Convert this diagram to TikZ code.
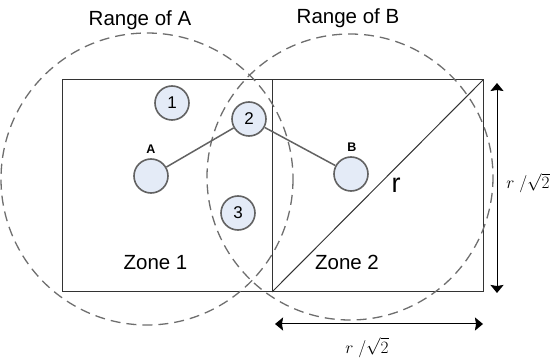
\documentclass[tikz,border=0pt]{standalone}
\usepackage{fontspec}
\setmainfont{Liberation Sans}
\newfontfamily\timesf{Liberation Serif}
\usetikzlibrary{arrows.meta}
\definecolor{nodefill}{HTML}{E4EBF7}
\definecolor{nodeline}{HTML}{626262}
\definecolor{rangeline}{HTML}{6E6E6E}
\begin{document}
\begin{tikzpicture}[x=1pt,y=-1pt,
  sensornode/.style={circle,draw=nodeline,line width=1.6pt,fill=nodefill,minimum size=34pt,inner sep=0pt},
  numnode/.style={circle,draw=nodeline,line width=1.6pt,fill=nodefill,minimum size=34pt,inner sep=0pt,font=\fontsize{17}{18}\selectfont},
  rangecirc/.style={draw=rangeline,line width=1.3pt,dash pattern=on 10pt off 6pt},
  sensorlink/.style={draw=nodeline,line width=1.5pt},
  zoneline/.style={draw=black!80,line width=1pt},
  lbltext/.style={font=\fontsize{20.5}{22}\selectfont,anchor=base,inner sep=0pt},
  sensorlbl/.style={font=\bfseries\fontsize{12.5}{14}\selectfont},
  dimarrow/.style={draw=black,line width=1pt,{Stealth[length=8pt,width=13pt,inset=1pt]}-{Stealth[length=8pt,width=13pt,inset=1pt]}},
  dimlbl/.style={font=\timesf\fontsize{19}{20}\selectfont,anchor=base,inner sep=0pt}]
\useasboundingbox (0,0) rectangle (552,358);
% zones
\draw[zoneline] (62,80) rectangle (272,292);
\draw[zoneline] (272,80) rectangle (483,292);
\draw[zoneline] (272,292) -- (483,80);
% ranges
\draw[rangecirc] (147,179) circle (146);
\draw[rangecirc] (350,177) circle (143);
% nodes
\node[numnode] (n1) at (172,103) {1};
\node[numnode] (n2) at (249,119) {2};
\node[numnode] (n3) at (238,213) {3};
\node[sensornode] (A) at (151,176) {};
\node[sensornode] (B) at (351,174) {};
\draw[sensorlink] (A) -- (n2);
\draw[sensorlink] (n2) -- (B);
\node[sensorlbl] (la) at (151,149) {A};
\node[sensorlbl] (lb) at (352,147) {B};
% labels
\node[lbltext] (z1) at (155.5,270) {Zone 1};
\node[lbltext] (z2) at (347,270) {Zone 2};
\node[font=\fontsize{27}{28}\selectfont,anchor=base,inner sep=0pt] (r) at (396,193) {r};
\node[lbltext] (ra) at (140,26) {Range of A};
\node[lbltext] (rb) at (348,24) {Range of B};
% dimensions
\coordinate (vt) at (497,83);
\coordinate (vb) at (497,293);
\draw[dimarrow] (vt) -- (vb);
\node[dimlbl] (lv) at (528,189) {$r\ /\sqrt{2}$};
\coordinate (hl) at (275,324);
\coordinate (hr) at (483,324);
\draw[dimarrow] (hl) -- (hr);
\node[dimlbl] (lh) at (367,353) {$r\ /\sqrt{2}$};
\end{tikzpicture}
\end{document}
